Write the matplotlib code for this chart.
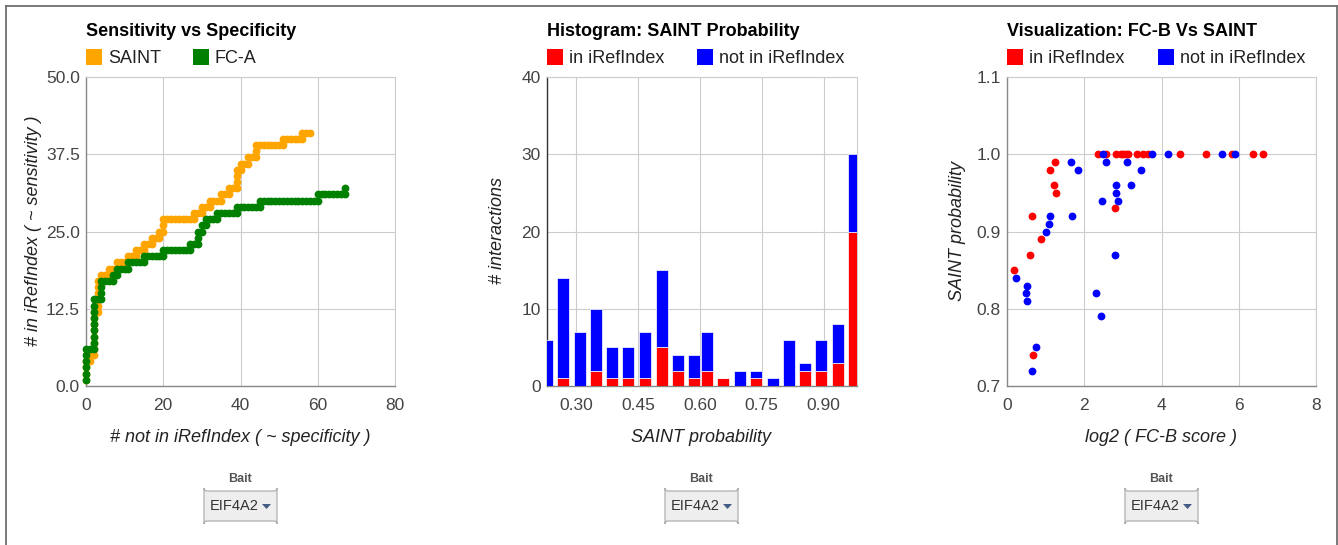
import matplotlib
matplotlib.use('Agg')
import matplotlib.pyplot as plt
from matplotlib.patches import Rectangle, FancyBboxPatch, Polygon
from matplotlib.lines import Line2D
from matplotlib.transforms import Affine2D

plt.rcParams['font.family'] = ['Liberation Sans', 'DejaVu Sans']

# ---------------- data ----------------
roc_xticks = [0, 20, 40, 60, 80]
roc_yticks = [0.0, 12.5, 25.0, 37.5, 50.0]
roc_yticklabels = ['0.0', '12.5', '25.0', '37.5', '50.0']

saint_x = [0, 0, 0, 0, 1, 1, 2, 2, 2, 2, 2, 2, 2, 2, 3, 3, 3, 3, 3, 3, 4, 4, 5, 6, 6, 7, 8, 8, 9, 10,
           11, 11, 12, 13, 13, 14, 15, 15, 16, 17, 17, 18, 19, 19, 20, 20, 20, 21, 22, 23, 24, 25, 26, 27,
           28, 28, 29, 30, 30, 31, 32, 32, 33, 34, 35, 35, 36, 37, 37, 38, 39, 39, 39, 39, 40, 40, 41,
           42, 42, 43, 44, 44, 44, 45, 46, 47, 48, 49, 50, 51, 51, 52, 53, 54, 55, 56, 56, 57, 58]
saint_y = [1, 2, 3, 4, 4, 5, 5, 6, 7, 8, 9, 10, 11, 12, 12, 13, 14, 15, 16, 17, 17, 18, 18, 18, 19, 19,
           19, 20, 20, 20, 20, 21, 21, 21, 22, 22, 22, 23, 23, 23, 24, 24, 24, 25, 25, 26, 27, 27, 27, 27,
           27, 27, 27, 27, 27, 28, 28, 28, 29, 29, 29, 30, 30, 30, 30, 31, 31, 31, 32, 32, 32, 33, 34, 35,
           35, 36, 36, 36, 37, 37, 37, 38, 39, 39, 39, 39, 39, 39, 39, 39, 40, 40, 40, 40, 40, 40, 41, 41, 41]

fca_x = [0, 0, 0, 0, 0, 0, 1, 2, 2, 2, 2, 2, 2, 2, 2, 2, 3, 4, 4, 4, 4, 5, 6, 7, 7, 8, 8, 9, 10, 11,
         11, 12, 13, 14, 15, 15, 16, 17, 18, 19, 20, 20, 21, 22, 23, 24, 25, 26, 27, 27, 28, 29, 29, 29,
         30, 30, 31, 31, 32, 33, 34, 34, 35, 36, 37, 38, 39, 39, 40, 41, 42, 43, 44, 45, 45, 46, 47, 48,
         49, 50, 51, 52, 53, 54, 55, 56, 57, 58, 59, 60, 60, 61, 62, 63, 64, 65, 66, 67, 67]
fca_y = [1, 2, 3, 4, 5, 6, 6, 6, 7, 8, 9, 10, 11, 12, 13, 14, 14, 14, 15, 16, 17, 17, 17, 17, 18, 18,
         19, 19, 19, 19, 20, 20, 20, 20, 20, 21, 21, 21, 21, 21, 21, 22, 22, 22, 22, 22, 22, 22, 22, 23,
         23, 23, 24, 25, 25, 26, 26, 27, 27, 27, 27, 28, 28, 28, 28, 28, 28, 29, 29, 29, 29, 29, 29, 29,
         30, 30, 30, 30, 30, 30, 30, 30, 30, 30, 30, 30, 30, 30, 30, 30, 31, 31, 31, 31, 31, 31, 31, 31, 32]

hist_centers = [0.229, 0.269, 0.309, 0.349, 0.388, 0.427, 0.468, 0.508, 0.547, 0.587,
                0.618, 0.657, 0.697, 0.736, 0.777, 0.817, 0.855, 0.894, 0.935, 0.974]
hist_in = [0, 1, 0, 2, 1, 1, 1, 5, 2, 1, 2, 1, 0, 1, 0, 0, 2, 2, 3, 20]
hist_not = [6, 13, 7, 8, 4, 4, 6, 10, 2, 3, 5, 0, 2, 1, 1, 6, 1, 4, 5, 10]
hist_xticks = [0.30, 0.45, 0.60, 0.75, 0.90]
hist_xticklabels = ['0.30', '0.45', '0.60', '0.75', '0.90']
hist_yticks = [0, 10, 20, 30, 40]

fcb_in = [0.18, 0.59, 0.64, 0.68, 0.87, 1.11, 1.21, 1.25, 1.27, 2.79,
          2.36, 2.57, 2.82, 2.94, 3.01, 3.08, 3.14, 3.37, 3.51, 3.65, 4.48, 5.15, 5.83, 6.38, 6.62]
prob_in = [0.85, 0.87, 0.92, 0.74, 0.89, 0.98, 0.96, 0.99, 0.95, 0.93,
           1.0, 1.0, 1.0, 1.0, 1.0, 1.0, 1.0, 1.0, 1.0, 1.0, 1.0, 1.0, 1.0, 1.0, 1.0]
fcb_not = [0.24, 0.53, 0.50, 0.52, 0.74, 0.64, 1.02, 1.09, 1.11, 1.66, 1.83, 1.67, 2.49, 2.57,
           2.45, 2.31, 2.44, 2.82, 2.82, 2.87, 2.79, 3.11, 3.21, 3.48, 3.76, 4.16, 5.56, 5.90]
prob_not = [0.84, 0.83, 0.82, 0.81, 0.75, 0.72, 0.90, 0.91, 0.92, 0.99, 0.98, 0.92, 1.00, 0.99,
            0.94, 0.82, 0.79, 0.96, 0.95, 0.94, 0.87, 0.99, 0.96, 0.98, 1.00, 1.00, 1.00, 1.00]
sc_xticks = [0, 2, 4, 6, 8]
sc_yticks = [0.7, 0.8, 0.9, 1.0, 1.1]
sc_yticklabels = ['0.7', '0.8', '0.9', '1.0', '1.1']

ORANGE, GREEN, RED, BLUE = '#FFA500', '#008000', '#FF0000', '#0000FF'

# ---------------- figure ----------------
W, H = 1338, 545
fig = plt.figure(figsize=(W / 100, H / 100), dpi=100)
fig.patch.set_facecolor('white')
PX = Affine2D().scale(0.01, -0.01).translate(0, H * 0.01) + fig.dpi_scale_trans


def add_axes_px(x0, y0, x1, y1):
    return fig.add_axes([x0 / W, 1 - y1 / H, (x1 - x0) / W, (y1 - y0) / H])


def style(ax, left_color):
    ax.grid(True, color='#cccccc', lw=0.8)
    ax.set_axisbelow(True)
    ax.tick_params(length=0, labelsize=12.5, labelcolor='#444444')
    ax.tick_params(axis='x', pad=8.5)
    ax.tick_params(axis='y', pad=4.5)
    for s in ['top', 'right']:
        ax.spines[s].set_color('#cccccc')
        ax.spines[s].set_linewidth(0.8)
    ax.spines['left'].set_color(left_color)
    ax.spines['bottom'].set_color('#888888')
    ax.spines['left'].set_linewidth(1.0)
    ax.spines['bottom'].set_linewidth(1.0)


def txt(x, y, s, **kw):
    fig.text(x, y, s, transform=PX, **kw)


def legend(items, y=57):
    for (x, color, label) in items:
        fig.add_artist(Rectangle((x, y - 8), 16, 16, transform=PX, facecolor=color, edgecolor='none'))
        txt(x + 22, y + 6, label, fontsize=13, color='#222222', va='baseline', ha='left')


def bait(cx):
    txt(cx, 482, 'Bait', fontsize=9, fontweight='bold', color='#555555', ha='center', va='baseline')
    x0, x1, y0, y1 = cx - 36, cx + 37, 491, 521
    fig.add_artist(FancyBboxPatch((x0, y1), x1 - x0, y0 - y1, boxstyle='round,pad=0,rounding_size=3',
                                  transform=PX, facecolor='#eeeeee', edgecolor='#b0b0b0', lw=0.9))
    txt(x0 + 6, 506, 'EIF4A2', fontsize=10.5, color='#333333', ha='left', va='center')
    fig.add_artist(Polygon([(cx + 22, 504), (cx + 31, 504), (cx + 26.5, 509)], closed=True,
                           transform=PX, facecolor='#445c85', edgecolor='none'))


# ---- left: ROC ----
ax1 = add_axes_px(86, 77, 395, 386)
ax1.plot(saint_x, saint_y, ls='none', marker='o', ms=4.6, color=ORANGE, mec=ORANGE, clip_on=False, zorder=3)
ax1.plot(fca_x, fca_y, ls='none', marker='o', ms=4.6, color=GREEN, mec=GREEN, clip_on=False, zorder=4)
ax1.set_xlim(0, 80)
ax1.set_ylim(0, 50)
ax1.set_xticks(roc_xticks)
ax1.set_yticks(roc_yticks)
ax1.set_yticklabels(roc_yticklabels)
style(ax1, '#888888')
txt(86, 36, 'Sensitivity vs Specificity', fontsize=13, fontweight='bold', color='black')
legend([(86, ORANGE, 'SAINT'), (193, GREEN, 'FC-A')])
txt(240, 437, '# not in iRefIndex ( ~ specificity )', fontsize=13, style='italic', color='#222222',
    ha='center', va='center')
txt(34, 231, '# in iRefIndex ( ~ sensitivity )', fontsize=13, style='italic', color='#222222',
    ha='center', va='center', rotation=90)
bait(240)

# ---- middle: histogram ----
ax2 = add_axes_px(547, 77, 857, 386)
ax2.bar(hist_centers, hist_in, width=0.029, color=RED, edgecolor='white', lw=0.5, zorder=3)
ax2.bar(hist_centers, hist_not, width=0.029, bottom=hist_in, color=BLUE, edgecolor='white', lw=0.5, zorder=3)
ax2.set_xlim(0.2298, 0.9806)
ax2.set_ylim(0, 40)
ax2.set_xticks(hist_xticks)
ax2.set_xticklabels(hist_xticklabels)
ax2.set_yticks(hist_yticks)
style(ax2, '#333333')
txt(547, 36, 'Histogram: SAINT Probability', fontsize=13, fontweight='bold', color='black')
legend([(547, RED, 'in iRefIndex'), (697, BLUE, 'not in iRefIndex')])
txt(701, 437, 'SAINT probability', fontsize=13, style='italic', color='#222222', ha='center', va='center')
txt(497, 231, '# interactions', fontsize=13, style='italic', color='#222222', ha='center', va='center',
    rotation=90)
bait(701)

# ---- right: scatter ----
ax3 = add_axes_px(1007, 77, 1316, 386)
ax3.plot(fcb_in, prob_in, ls='none', marker='o', ms=4.6, color=RED, mec=RED, clip_on=False, zorder=3)
ax3.plot(fcb_not, prob_not, ls='none', marker='o', ms=4.6, color=BLUE, mec=BLUE, clip_on=False, zorder=4)
ax3.set_xlim(0, 8)
ax3.set_ylim(0.7, 1.1)
ax3.set_xticks(sc_xticks)
ax3.set_yticks(sc_yticks)
ax3.set_yticklabels(sc_yticklabels)
style(ax3, '#888888')
txt(1007, 36, 'Visualization: FC-B Vs SAINT', fontsize=13, fontweight='bold', color='black')
legend([(1007, RED, 'in iRefIndex'), (1158, BLUE, 'not in iRefIndex')])
txt(1161, 437, 'log2 ( FC-B score )', fontsize=13, style='italic', color='#222222', ha='center', va='center')
txt(957, 231, 'SAINT probability', fontsize=13, style='italic', color='#222222', ha='center', va='center',
    rotation=90)
bait(1161)

# ---- page border ----
for (xs, ys) in [((6, 6), (6, H)), ((6, 1337), (6, 6)), ((1337, 1337), (6, H))]:
    fig.add_artist(Line2D(xs, ys, transform=PX, color='#6e6e6e', lw=1.3))

fig.savefig('out.png', dpi=100)
